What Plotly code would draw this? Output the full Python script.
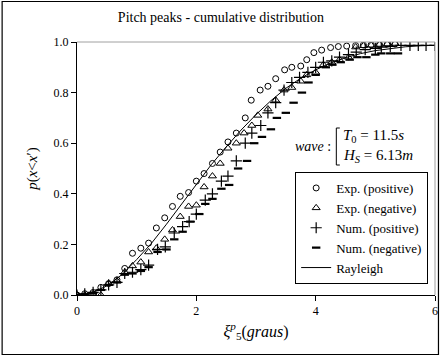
import plotly.graph_objects as go

# ---- data ----
exp_pos_x = [0, 0.13, 0.27, 0.40, 0.53, 0.67, 0.80, 0.93, 1.07, 1.20, 1.33, 1.47, 1.60, 1.73,
             1.87, 2.00, 2.13, 2.27, 2.40, 2.53, 2.67, 2.82, 2.92, 3.07, 3.20, 3.33, 3.48, 3.60,
             3.75, 3.85, 3.97, 4.10, 4.25, 4.38, 4.52, 4.67, 4.80, 4.93, 5.07, 5.20, 5.33]
exp_pos_y = [0.0, 0.005, 0.01, 0.03, 0.045, 0.06, 0.105, 0.165, 0.185, 0.205, 0.265, 0.305, 0.35, 0.39,
             0.405, 0.45, 0.48, 0.52, 0.565, 0.605, 0.64, 0.70, 0.77, 0.81, 0.825, 0.855, 0.89, 0.90,
             0.905, 0.93, 0.958, 0.968, 0.978, 0.982, 0.984, 0.986, 0.988, 0.989, 0.99, 0.991, 0.992]

exp_neg_x = [0, 0.13, 0.27, 0.40, 0.53, 0.67, 0.80, 0.93, 1.07, 1.20, 1.33, 1.47, 1.60, 1.73,
             1.87, 2.00, 2.13, 2.27, 2.40, 2.53, 2.67, 2.80, 2.93, 3.03, 3.20, 3.33, 3.47, 3.60,
             3.75, 3.85, 4.00, 4.13, 4.27, 4.40, 4.55, 4.67, 4.80, 4.93, 5.07, 5.20, 5.33]
exp_neg_y = [0.0, 0.0, 0.005, 0.0, 0.045, 0.055, 0.09, 0.115, 0.13, 0.17, 0.185, 0.22, 0.257, 0.31,
             0.35, 0.355, 0.427, 0.47, 0.52, 0.58, 0.60, 0.64, 0.67, 0.71, 0.735, 0.77, 0.81, 0.82,
             0.845, 0.87, 0.88, 0.91, 0.92, 0.93, 0.94, 0.98, 0.985, 0.987, 0.99, 0.992, 0.994]

num_pos_x = [0, 0.13, 0.27, 0.40, 0.53, 0.67, 0.80, 0.93, 1.07, 1.20, 1.35, 1.48, 1.63, 1.77,
             1.88, 2.00, 2.15, 2.27, 2.42, 2.53, 2.67, 2.82, 2.93, 3.08, 3.20, 3.33, 3.47, 3.60,
             3.73, 3.87, 4.00, 4.13, 4.27, 4.40, 4.55, 4.68, 4.83, 5.00, 5.10, 5.25, 5.43, 5.58,
             5.72, 5.85, 6.00]
num_pos_y = [0.0, 0.005, 0.01, 0.02, 0.04, 0.05, 0.085, 0.09, 0.10, 0.118, 0.18, 0.19, 0.245, 0.27,
             0.29, 0.32, 0.375, 0.40, 0.45, 0.47, 0.53, 0.60, 0.64, 0.67, 0.72, 0.76, 0.81, 0.84,
             0.86, 0.88, 0.90, 0.92, 0.925, 0.94, 0.95, 0.96, 0.97, 0.975, 0.98, 0.983, 0.987, 0.987,
             0.987, 0.987, 0.987]

num_neg_x = [0, 0.13, 0.27, 0.40, 0.53, 0.67, 0.80, 0.93, 1.07, 1.20, 1.35, 1.50, 1.63, 1.77,
             1.90, 2.05, 2.15, 2.27, 2.42, 2.55, 2.70, 2.85, 2.97, 3.10, 3.25, 3.35, 3.50, 3.63,
             3.77, 3.88, 4.00, 4.17, 4.28, 4.42, 4.57, 4.70, 4.85, 5.00, 5.10, 5.25, 5.38]
num_neg_y = [0.0, 0.003, 0.008, 0.02, 0.04, 0.05, 0.08, 0.085, 0.095, 0.11, 0.17, 0.18, 0.22, 0.25,
             0.29, 0.32, 0.36, 0.38, 0.42, 0.435, 0.50, 0.53, 0.60, 0.625, 0.655, 0.70, 0.72, 0.76,
             0.80, 0.84, 0.87, 0.90, 0.91, 0.92, 0.93, 0.94, 0.94, 0.95, 0.955, 0.955, 0.955]

rayleigh_x = [0, 0.25, 0.5, 0.75, 1.0, 1.25, 1.5, 1.75, 2.0, 2.25, 2.5, 2.75, 3.0, 3.25,
              3.5, 3.75, 4.0, 4.25, 4.5, 4.75, 5.0, 5.25, 5.5, 5.75, 6.0]
rayleigh_y = [0.0, 0.009, 0.036, 0.08, 0.14, 0.205, 0.28, 0.36, 0.44, 0.515, 0.585, 0.652, 0.713, 0.768,
              0.817, 0.857, 0.89, 0.917, 0.938, 0.954, 0.966, 0.975, 0.981, 0.985, 0.987]

x_ticks = [0, 2, 4, 6]
y_ticks = [0.0, 0.2, 0.4, 0.6, 0.8, 1.0]

FONT = "Liberation Serif, Times New Roman, serif"

fig = go.Figure()
fig.add_trace(go.Scatter(x=exp_pos_x, y=exp_pos_y, mode="markers", name="Exp. (positive)",
                         marker=dict(symbol="circle-open", size=6, color="black", line=dict(width=1))))
fig.add_trace(go.Scatter(x=exp_neg_x, y=exp_neg_y, mode="markers", name="Exp. (negative)",
                         marker=dict(symbol="triangle-up-open", size=7, color="black", line=dict(width=1))))
fig.add_trace(go.Scatter(x=num_pos_x, y=num_pos_y, mode="markers", name="Num. (positive)",
                         marker=dict(symbol="cross-thin", size=8, color="black", line=dict(width=1.2, color="black"))))
fig.add_trace(go.Scatter(x=num_neg_x, y=num_neg_y, mode="markers", name="Num. (negative)",
                         marker=dict(symbol="line-ew", size=6, color="black", line=dict(width=2.2, color="black"))))
fig.add_trace(go.Scatter(x=rayleigh_x, y=rayleigh_y, mode="lines", name="Rayleigh",
                         line=dict(color="black", width=1)))

# paper coordinate helpers for the frame (plot area px 77..438 x 42..295)
L, R, T, B = 77, 5, 42, 61
W, H = 443, 356
pw, ph = W - L - R, H - T - B


def px_x(p):
    return (p - L) / pw


def px_y(p):
    return (H - B - p) / ph


shapes = [
    # outer chart frame
    dict(type="rect", xref="paper", yref="paper", x0=px_x(1.5), x1=px_x(441.5), y0=px_y(354.5), y1=px_y(1.5),
         line=dict(color="black", width=1.2), layer="below"),
    # plot-area border (grey top & right)
    dict(type="line", xref="paper", yref="paper", x0=0, x1=1, y0=1, y1=1, line=dict(color="#a0a0a0", width=1)),
    dict(type="line", xref="paper", yref="paper", x0=1, x1=1, y0=0, y1=1, line=dict(color="#a0a0a0", width=1)),
    # bracket of the wave annotation
    dict(type="path", xref="paper", yref="paper",
         path=f"M {px_x(342)} {px_y(128)} L {px_x(338.5)} {px_y(128)} L {px_x(338.5)} {px_y(165)} L {px_x(342)} {px_y(165)}",
         line=dict(color="black", width=1)),
]

annotations = [
    dict(text="<i>wave</i> :", xref="paper", yref="paper", x=px_x(335), y=px_y(146), xanchor="right",
         yanchor="middle", showarrow=False, font=dict(family=FONT, size=14, color="black")),
    dict(text="<i>T</i><sub>0</sub> = 11.5<i>s</i>", xref="paper", yref="paper", x=px_x(343), y=px_y(136),
         xanchor="left", yanchor="middle", showarrow=False, font=dict(family=FONT, size=15, color="black")),
    dict(text="<i>H</i><sub><i>S</i></sub> = 6.13<i>m</i>", xref="paper", yref="paper", x=px_x(343), y=px_y(156),
         xanchor="left", yanchor="middle", showarrow=False, font=dict(family=FONT, size=15, color="black")),
]

fig.update_layout(
    width=W, height=H,
    margin=dict(l=L, r=R, t=T, b=B),
    paper_bgcolor="white", plot_bgcolor="white",
    font=dict(family=FONT, size=12, color="black"),
    title=dict(text="Pitch peaks - cumulative distribution", x=px_x(257), xanchor="center",
               y=1 - 17 / H, yanchor="middle", font=dict(family=FONT, size=14, color="black")),
    xaxis=dict(range=[0, 6], tickvals=x_ticks, ticktext=[str(v) for v in x_ticks],
               showgrid=False, zeroline=False, showline=True, linecolor="black", linewidth=1,
               ticks="outside", ticklen=5, tickcolor="black", tickfont=dict(size=12),
               title=dict(text="<i>ξ</i><sup><i>p</i></sup><sub>5</sub>(<i>graus</i>)",
                          font=dict(family=FONT, size=16), standoff=8)),
    yaxis=dict(range=[0, 1.0], tickvals=y_ticks, ticktext=[f"{v:.1f}" for v in y_ticks],
               showgrid=False, zeroline=False, showline=True, linecolor="black", linewidth=1,
               ticks="outside", ticklen=5, tickcolor="black", tickfont=dict(size=12),
               title=dict(text="<i>p</i>(<i>x</i>&lt;<i>x</i>′)", font=dict(family=FONT, size=15), standoff=12)),
    legend=dict(x=px_x(297), y=px_y(172), xanchor="left", yanchor="top",
                bgcolor="white", bordercolor="black", borderwidth=1,
                font=dict(family=FONT, size=13, color="black"), tracegroupgap=2,
                itemwidth=30),
    showlegend=True,
    shapes=shapes, annotations=annotations,
)

fig.write_html("out.html")
